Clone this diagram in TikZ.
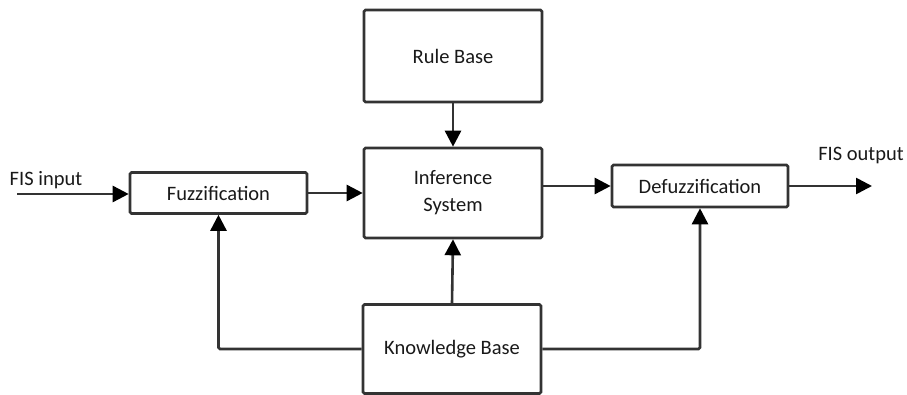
\documentclass[tikz,border=0pt]{standalone}
\usepackage{fontspec}
\setmainfont{Carlito}
\usetikzlibrary{arrows.meta}
\begin{document}
\begin{tikzpicture}[x=1pt,y=-1pt,
  font=\fontsize{20.5}{23}\selectfont,
  blk/.style={draw=black!80, line width=2.6pt, rounded corners=1.5pt, fill=white, align=center, inner sep=0pt, text=black!90},
  conn/.style={draw=black!80, line width=2.6pt},
  arr/.style={conn, -{Triangle[length=16pt,width=16pt,fill=black,color=black]}},
  lbl/.style={text=black!90, inner sep=0pt}
]
\useasboundingbox (0,0) rectangle (907,395);
\node[blk, minimum width=178pt, minimum height=92pt] (rule) at (453,56) {Rule Base};
\node[blk, minimum width=178pt, minimum height=90pt] (inf) at (453,193) {Inference\\[4pt]System};
\node[blk, minimum width=177pt, minimum height=41pt] (fuzz) at (218.5,193) {Fuzzification};
\node[blk, minimum width=176pt, minimum height=42pt] (defuzz) at (700,186) {Defuzzification};
\node[blk, minimum width=178pt, minimum height=89pt] (kb) at (452,349) {Knowledge Base};
\coordinate (in) at (17,194);
\coordinate (out) at (872,186);
\node[lbl] (inlbl) at (46,180) {FIS input};
\node[lbl] (outlbl) at (861,156) {FIS output};
\draw[arr] (in) -- (in -| fuzz.west);
\draw[arr] (fuzz.east) -- (fuzz.east -| inf.west);
\draw[arr] (defuzz.west -| inf.east) -- (defuzz.west);
\draw[arr] (defuzz.east) -- (out);
\draw[arr] (rule.south) -- (inf.north);
\draw[arr] (kb.north) -- (inf.south);
\draw[arr, rounded corners=1.5pt] (kb.west) -| (fuzz.south);
\draw[arr, rounded corners=1.5pt] (kb.east) -| (defuzz.south);
\end{tikzpicture}
\end{document}
